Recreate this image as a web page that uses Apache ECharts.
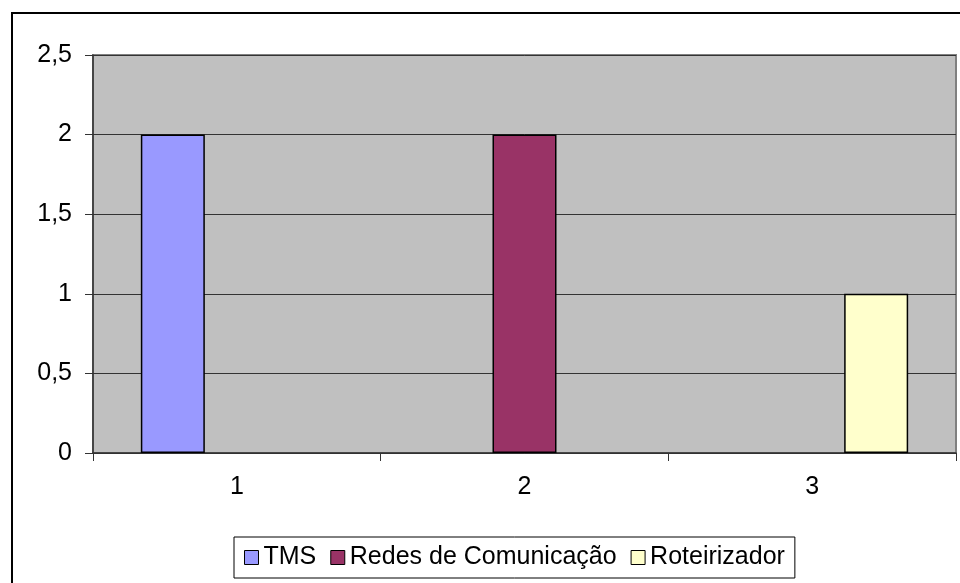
<!DOCTYPE html>
<html>
<head>
<meta charset="utf-8">
<script src="https://cdn.jsdelivr.net/npm/echarts@6/dist/echarts.min.js"></script>
<style>
  html, body { margin: 0; padding: 0; background: #fff; }
  #chart { width: 960px; height: 583px; }
</style>
</head>
<body>
<div id="chart"></div>
<script>
// dados do gráfico
var categorias = ['1', '2', '3'];
var tms = [2, 0, 0];
var redes = [0, 2, 0];
var roteirizador = [0, 0, 1];
var nomes = ['TMS', 'Redes de Comunicação', 'Roteirizador'];
var cores = ['#9999FF', '#993366', '#FFFFCC'];

var chart = echarts.init(document.getElementById('chart'));

// barras com valor 0 não são desenhadas (como no Excel)
function serie(nome, dados, cor) {
  return {
    name: nome,
    type: 'bar',
    data: dados.map(function (v) { return v === 0 ? '-' : v; }),
    barWidth: 64,
    barGap: '0%',
    itemStyle: { color: cor, borderColor: '#000', borderWidth: 1.5 }
  };
}

var option = {
  animation: false,
  backgroundColor: '#fff',
  textStyle: { fontFamily: 'Liberation Sans, Arial, sans-serif' },
  graphic: [{
    type: 'rect',
    shape: { x: 12, y: 13, width: 1000, height: 700 },
    style: { fill: 'none', stroke: '#000', lineWidth: 2 },
    silent: true
  }],
  grid: {
    left: 93, right: 4, top: 55, bottom: 130,
    show: true,
    backgroundColor: '#C0C0C0',
    borderColor: '#808080',
    borderWidth: 2
  },
  legend: {
    data: nomes,
    left: 234, top: 537,
    padding: [8, 10, 8, 10],
    borderColor: '#000', borderWidth: 1,
    icon: 'rect',
    itemWidth: 14, itemHeight: 14,
    itemGap: 14, itemTextGap: 9,
    itemStyle: { borderColor: '#000', borderWidth: 1 },
    textStyle: { fontSize: 25, color: '#000', fontFamily: 'Liberation Sans, Arial, sans-serif' }
  },
  xAxis: {
    type: 'category',
    data: categorias,
    axisLine: { lineStyle: { color: '#333', width: 1.5 } },
    axisTick: { show: true, length: 8, lineStyle: { color: '#333' } },
    axisLabel: { fontSize: 25, color: '#000', margin: 22 }
  },
  yAxis: {
    type: 'value',
    min: 0, max: 2.5, interval: 0.5,
    axisLine: { show: true, lineStyle: { color: '#333', width: 1.5 } },
    axisTick: { show: true, length: 8, lineStyle: { color: '#333' } },
    splitLine: { lineStyle: { color: '#333', width: 1 } },
    axisLabel: {
      fontSize: 25, color: '#000', margin: 21,
      formatter: function (v) { return String(v).replace('.', ','); }
    }
  },
  series: [
    serie(nomes[0], tms, cores[0]),
    serie(nomes[1], redes, cores[1]),
    serie(nomes[2], roteirizador, cores[2])
  ]
};

chart.setOption(option);
</script>
</body>
</html>
